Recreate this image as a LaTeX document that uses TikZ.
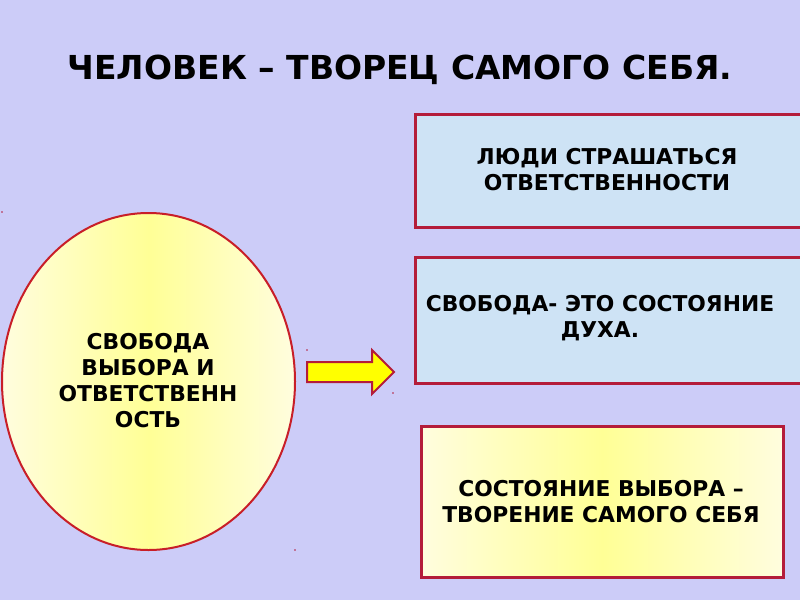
\documentclass[tikz,border=0pt]{standalone}
\usepackage{fontspec}
\setmainfont{DejaVu Sans}
\usetikzlibrary{shapes.geometric}
\definecolor{bgc}{RGB}{204,204,248}
\definecolor{boxblue}{RGB}{206,227,245}
\definecolor{edgered}{RGB}{180,28,58}
\definecolor{ellred}{RGB}{200,30,40}
\definecolor{ylight}{RGB}{255,253,222}
\definecolor{ymid}{RGB}{255,255,150}
\definecolor{arrowy}{RGB}{255,255,0}
\tikzset{
  bluebox/.style={draw=edgered, line width=2.5pt, fill=boxblue, minimum width=#1, anchor=north west, inner sep=0pt},
  txt/.style={font=\bfseries\fontsize{21.8}{26}\selectfont, align=center, text=black},
  ybox/.style={draw=edgered, line width=2.5pt, left color=ylight, right color=ylight, middle color=ymid, anchor=north west, inner sep=0pt},
}
\begin{document}
\begin{tikzpicture}[x=1pt,y=-1pt]
\fill[bgc] (0,0) rectangle (800,600);
\useasboundingbox (0,0) rectangle (800,600);
\clip (0,0) rectangle (800,600);
\node[txt, font=\bfseries\fontsize{33}{38}\selectfont] (title) at (400,70) {ЧЕЛОВЕК – ТВОРЕЦ САМОГО СЕБЯ.};
% boxes
\node[bluebox=400pt, minimum height=113pt] (b1) at (414,113) {};
\node[txt] (t1) at (607,170) {ЛЮДИ СТРАШАТЬСЯ\\ОТВЕТСТВЕННОСТИ};
\node[bluebox=400pt, minimum height=126pt] (b2) at (414,256) {};
\node[txt] (t2) at (600,318) {СВОБОДА- ЭТО СОСТОЯНИЕ\\ДУХА.};
\node[ybox, minimum width=362pt, minimum height=151pt] (b3) at (420,425) {};
\node[txt] (t3) at (601,502) {СОСТОЯНИЕ ВЫБОРА –\\ТВОРЕНИЕ САМОГО СЕБЯ};
% ellipse
\node[ellipse, draw=ellred, line width=2pt, left color=ylight, right color=ylight, middle color=ymid, minimum width=293pt, minimum height=337pt, inner sep=0pt] (el) at (148.5,381.5) {};
\node[txt] (te) at (148,381) {СВОБОДА\\ВЫБОРА И\\ОТВЕТСТВЕНН\\ОСТЬ};
% arrow
\draw[draw=edgered, line width=2pt, fill=arrowy, line join=miter]
  (307,362) -- (372,362) -- (372,350) -- (394,372) -- (372,394) -- (372,382) -- (307,382) -- cycle;
% specks
\foreach \p/\n in {{(2,212)}/d1,{(307,350)}/d2,{(393,393)}/d3,{(295,550)}/d4}
  \fill[edgered] \p circle (0.8pt) coordinate (\n);
\end{tikzpicture}
\end{document}
